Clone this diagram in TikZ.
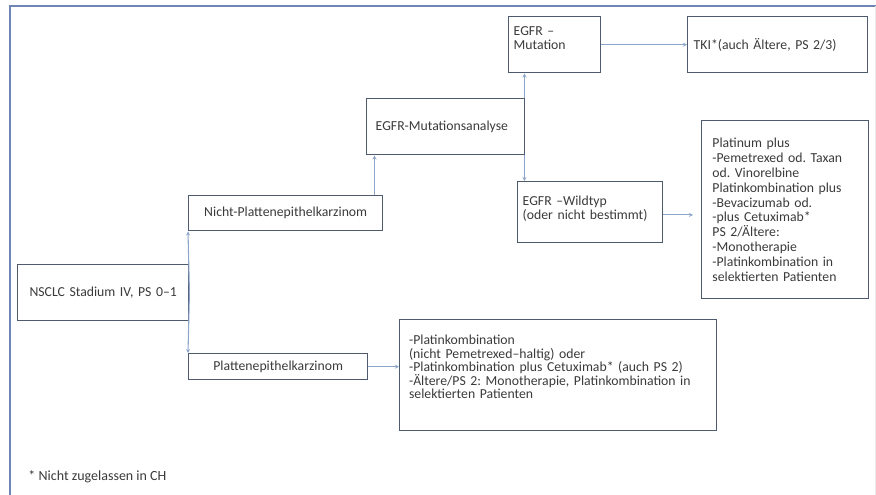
\documentclass[tikz,border=0pt]{standalone}
\usepackage{fontspec}
\setmainfont{Carlito}
\usepackage{tikz}
\usetikzlibrary{arrows.meta}
\usetikzlibrary{calc}
\frenchspacing
\definecolor{boxline}{HTML}{4E5A6E}
\definecolor{connline}{HTML}{8CA5C8}
\definecolor{framecol}{HTML}{6F85B5}
\definecolor{txtcol}{HTML}{3A3A3A}
\tikzset{every picture/.style={line width=0.75pt}}
\tikzset{
  box/.style={draw=boxline, line width=1.1pt, anchor=north west, inner ysep=2pt,
    text=txtcol, font=\fontsize{10.3}{11.1}\selectfont},
  conn/.style={draw=connline, line width=0.8pt, -{Stealth[length=3pt,width=3pt]}}
}

\begin{document}
\begin{tikzpicture}[x=0.75pt,y=0.75pt,yscale=-1,xscale=1]
\useasboundingbox (0,0) rectangle (876,495);

%Frame
\draw [framecol, line width=2.2pt] (10,495) -- (10,6) -- (876,6) ;
\draw [black!8] (875,6) -- (875,495) ;

% Text Node
\draw (17,264) node [box, inner xsep=3pt, text width=122.25pt, align=center, minimum height=42pt] (nsclc) {NSCLC Stadium IV, PS 0--1};
% Text Node
\draw (188,195) node [box, inner xsep=3pt, text width=139.5pt, align=center, minimum height=26.25pt] (nicht) {Nicht-Plattenepithelkarzinom};
% Text Node
\draw (188,353) node [box, inner xsep=3pt, text width=128.25pt, align=center, minimum height=19.5pt] (platten) {Plattenepithelkarzinom};
% Text Node
\draw (366,98) node [box, inner xsep=6.75pt, text width=105pt, align=left, minimum height=42pt] (analyse) {EGFR-Mutationsanalyse};
% Text Node
\draw (508,16) node [box, inner xsep=3.75pt, text width=61.5pt, align=left, minimum height=42pt, text depth=21pt] (mutation) {EGFR --\\Mutation};
% Text Node
\draw (687,16) node [box, inner xsep=4.5pt, text width=126pt, align=left, minimum height=42pt] (tki) {TKI*(auch Ältere, PS 2/3)};
% Text Node
\draw (517,181) node [box, inner xsep=3.75pt, text width=101.25pt, align=left, minimum height=45.75pt, text depth=16.5pt, font=\fontsize{10.3}{10}\selectfont] (wildtyp) {EGFR --Wildtyp\\(oder nicht bestimmt)};
% Text Node
\draw (701,120) node [box, inner xsep=8pt, text width=109.25pt, align=left, minimum height=133.5pt] (platinum) {Platinum plus\\-Pemetrexed od. Taxan\\od. Vinorelbine\\Platinkombination plus\\-Bevacizumab od.\\-plus Cetuximab*\\PS 2/Ältere:\\-Monotherapie\\-Platinkombination in\\selektierten Patienten};
% Text Node
\draw (399,319) node [box, inner xsep=7pt, text width=223.75pt, align=left, minimum height=83.25pt, text depth=53pt, font=\fontsize{10.3}{10.1}\selectfont] (platinkomb) {-Platinkombination\\(nicht Pemetrexed--haltig) oder\\-Platinkombination plus Cetuximab* (auch PS 2)\\-Ältere/PS 2: Monotherapie, Platinkombination in\\selektierten Patienten};
% Text Node
\draw (27,477) node [anchor=west, inner sep=0.75pt, text=txtcol, font=\fontsize{10.5}{12}\selectfont] (fn) {* Nicht zugelassen in CH};

%Connectors
\draw [conn] (nsclc.east) -- (nicht.south west) ;
\draw [conn] (nsclc.east) -- (platten.north west) ;
\draw [conn] ([xshift=-6.75pt]nicht.north east) -- ([xshift=-6.75pt]nicht.north east |- analyse.south) ;
\draw [conn] ([xshift=-0.75pt]analyse.north east) -- ([xshift=-0.75pt]analyse.north east |- mutation.south) ;
\draw [conn] ([xshift=-0.75pt]analyse.south east) -- ([xshift=-0.75pt]analyse.south east |- wildtyp.north) ;
\draw [conn] (mutation.east) -- (tki.west) ;
\draw [conn] ([yshift=2pt]wildtyp.east) -- ([yshift=2pt,xshift=-6pt]wildtyp.east -| platinum.west) ;
\draw [conn] (platten.east) -- (platten.east -| platinkomb.west) ;
\end{tikzpicture}
\end{document}
